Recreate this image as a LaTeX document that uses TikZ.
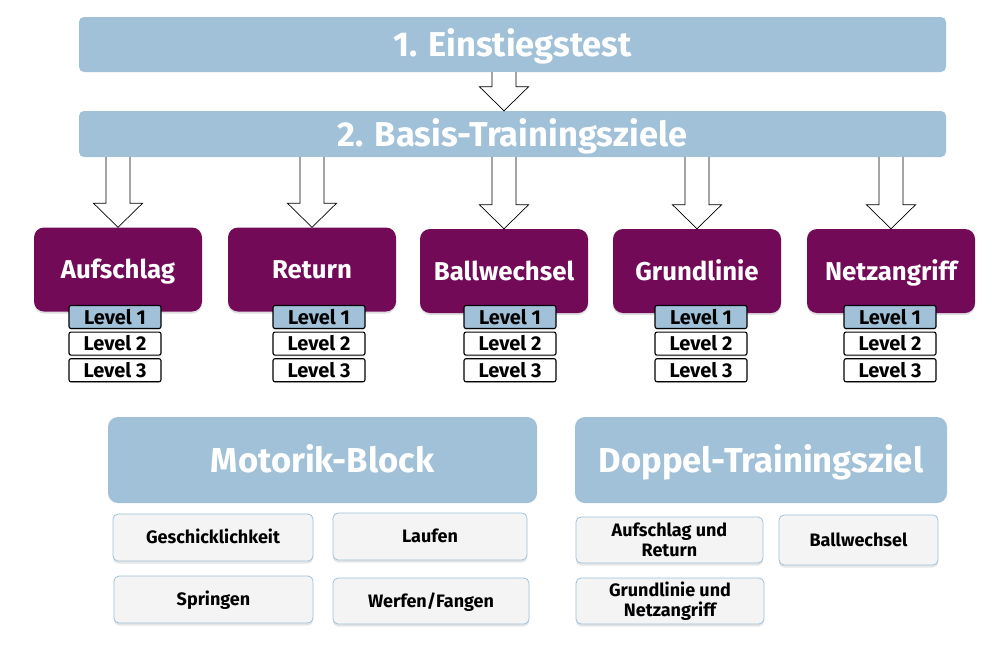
\documentclass[tikz,border=0pt]{standalone}
\usepackage{fontspec}
\setmainfont{Fira Sans}
\usetikzlibrary{calc,shadows,positioning}
\definecolor{barblue}{HTML}{A0C1D8}
\definecolor{goalpurple}{HTML}{720A58}
\definecolor{boxgray}{HTML}{F4F4F4}
\newcommand\fs[2]{\fontsize{#1}{#2}\selectfont\bfseries}
\newcommand\hollowarrow[2]{%
  \draw[hollow] let \p1=(#1), \p2=(#2) in
    (\x2-12pt,\y1) -- (\x2-12pt,\y2+24pt) -- (\x2-24.5pt,\y2+24pt) -- (\x2,\y2)
    -- (\x2+24.5pt,\y2+24pt) -- (\x2+12pt,\y2+24pt) -- (\x2+12pt,\y1);}

\tikzset{
  bar/.style={fill=barblue, rounded corners=5pt, text=white, inner sep=0pt,
    font=\fs{34.5}{34.5}, text height=24pt, text depth=0pt},
  goal/.style={fill=goalpurple, rounded corners=10pt, text=white, inner sep=0pt,
    minimum width=168pt, minimum height=84pt, font=\fs{25.8}{25.8},
    text height=18pt, text depth=0pt,
    drop shadow={shadow xshift=0pt, shadow yshift=-2pt, opacity=0.25}},
  level/.style={draw=black, line width=1.1pt, fill=white, rounded corners=2pt,
    inner sep=0pt, minimum width=92pt, minimum height=23pt, font=\fs{20}{20},
    text height=14pt, text depth=0pt,
    drop shadow={shadow xshift=0pt, shadow yshift=-1.5pt, opacity=0.2}},
  block/.style={fill=barblue, rounded corners=10pt, text=white, inner sep=0pt,
    minimum height=86pt, font=\fs{34.6}{34.6}, text height=24pt, text depth=0pt},
  item/.style={draw=barblue, line width=0.8pt, fill=boxgray, rounded corners=5pt,
    inner sep=0pt, align=center, font=\fs{18}{20},
    drop shadow={shadow xshift=0pt, shadow yshift=-2.5pt, opacity=0.2}},
  oneline/.style={text height=12.5pt, text depth=0pt},
  hollow/.style={draw=black, fill=white, line width=0.7pt},
}

\begin{document}
\begin{tikzpicture}[x=1pt,y=-1pt]
\useasboundingbox (0,0) rectangle (1000,656);

% the two stages
\node [bar, minimum width=867pt, minimum height=55pt] (b1) at (512.5,44.5) {1. Einstiegstest};
\node [bar, minimum width=867pt, minimum height=46pt] (b2) at (512.5,134) {2. Basis-Trainingsziele};

% goals with their levels
\def\goals{1/118/269.5/115/{Aufschlag},2/312/269.5/319/{Return},3/504/271/510/{Ballwechsel},4/697/271/701/{Grundlinie},5/891/271/890/{Netzangriff}}
\foreach \i / \gx / \gy / \lx / \element in \goals {
  \node [goal] (g\i) at (\gx,\gy) {\element};
  \node [level, fill=barblue] (l\i1) at (\lx,317) {Level 1};
  \node [level, below=2.5pt of l\i1] (l\i2) {Level 2};
  \node [level, below=2.5pt of l\i2] (l\i3) {Level 3};
}

\hollowarrow{b1.south -| g3.north}{b2.north -| g3.north}
\foreach \i in {1,...,5}
  \hollowarrow{b2.south -| g\i.north}{g\i.north};

% motor skills
\node [block, minimum width=429pt] (mot) at (322.5,460) {Motorik-Block};
\node [item, oneline, minimum width=200pt, minimum height=47pt] (ges) at (213,537.5) {Geschicklichkeit};
\node [item, oneline, minimum width=194pt, minimum height=47pt] (lau) at (430,536.5) {Laufen};
\node [item, oneline, minimum width=199pt, minimum height=47pt] (spr) at (213.5,599.5) {Springen};
\node [item, oneline, minimum width=196pt, minimum height=46pt] (wer) at (431,601) {Werfen/Fangen};

% doubles
\node [block, minimum width=372pt] (dop) at (761,460) {Doppel-Trainingsziel};
\node [item, minimum width=187pt, minimum height=46pt] (auf) at (669.5,540) {Aufschlag und\\Return};
\node [item, oneline, minimum width=159pt, minimum height=50pt] (bal) at (858.5,540) {Ballwechsel};
\node [item, minimum width=188pt, minimum height=46pt] (gru) at (670,601) {Grundlinie und\\Netzangriff};

\end{tikzpicture}
\end{document}
